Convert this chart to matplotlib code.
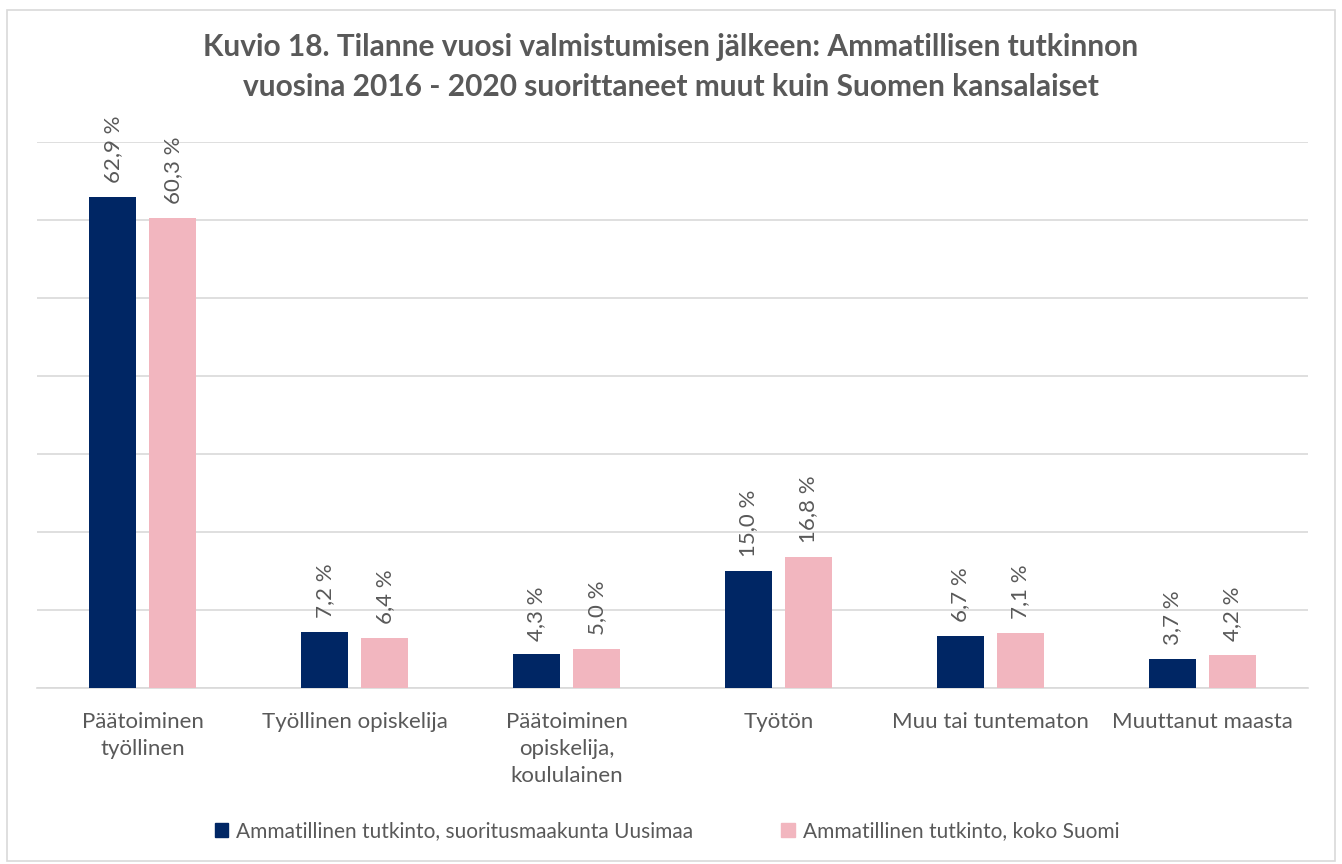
import numpy as np
import matplotlib

matplotlib.use("Agg")
import matplotlib.pyplot as plt
from matplotlib.patches import Rectangle, Patch

plt.rcParams["font.family"] = ["Lato", "DejaVu Sans"]

CATEGORIES = ["Päätoiminen\ntyöllinen", "Työllinen opiskelija", "Päätoiminen\nopiskelija,\nkoululainen",
              "Työtön", "Muu tai tuntematon", "Muuttanut maasta"]
UUSIMAA = [62.9, 7.2, 4.3, 15.0, 6.7, 3.7]
KOKO_SUOMI = [60.3, 6.4, 5.0, 16.8, 7.1, 4.2]
SERIES = ["Ammatillinen tutkinto, suoritusmaakunta Uusimaa", "Ammatillinen tutkinto, koko Suomi"]
TITLE = ("Kuvio 18. Tilanne vuosi valmistumisen jälkeen: Ammatillisen tutkinnon\n"
         "vuosina 2016 - 2020 suorittaneet muut kuin Suomen kansalaiset")
COLORS = ["#002664", "#f2b6bf"]
TEXT = "#595959"

fig = plt.figure(figsize=(13.42, 8.64), dpi=100)
fig.patches.append(Rectangle((7 / 1342, 3 / 864), 1328 / 1342, 851 / 864, transform=fig.transFigure,
                             fill=False, edgecolor="#d9d9d9", lw=1.2))
ax = fig.add_axes([37 / 1342, 1 - 688 / 864, 1271 / 1342, 546 / 864])

x = np.arange(len(CATEGORIES))
w, off = 0.222, 0.1417
for vals, dx, col in [(UUSIMAA, -off, COLORS[0]), (KOKO_SUOMI, off, COLORS[1])]:
    bars = ax.bar(x + dx, vals, w, color=col, zorder=3)
    for b, v in zip(bars, vals):
        ax.annotate(f"{v:.1f} %".replace(".", ","), (b.get_x() + b.get_width() / 2, v),
                    xytext=(0, 10), textcoords="offset points", rotation=90,
                    ha="center", va="bottom", fontsize=16, color=TEXT, annotation_clip=False)

ax.set_xlim(-0.5, len(CATEGORIES) - 0.5)
ax.set_ylim(0, 70)
ax.set_yticks(np.arange(0, 71, 10))
ax.yaxis.grid(True, color="#d9d9d9", lw=1.2, zorder=0)
ax.tick_params(axis="y", left=False, labelleft=False)
ax.tick_params(axis="x", length=0, pad=17, labelsize=16, labelcolor=TEXT)
ax.set_xticks(x)
ax.set_xticklabels(CATEGORIES, linespacing=1.45)
for s in ["top", "right", "left"]:
    ax.spines[s].set_visible(False)
ax.spines["bottom"].set_color("#d9d9d9")
ax.spines["bottom"].set_linewidth(1.2)

fig.text(0.5, 1 - 67 / 864, TITLE, ha="center", va="center", fontsize=21.5, fontweight="bold",
         color=TEXT, linespacing=1.5)

handles = [Patch(color=c) for c in COLORS]
fig.legend(handles, SERIES, loc="center", bbox_to_anchor=(0.497, 1 - 831 / 864), ncol=2, frameon=False,
           fontsize=15, labelcolor=TEXT, handlelength=0.65, handleheight=0.65, handletextpad=0.4,
           columnspacing=4.2)

fig.savefig("out.png", dpi=100)
